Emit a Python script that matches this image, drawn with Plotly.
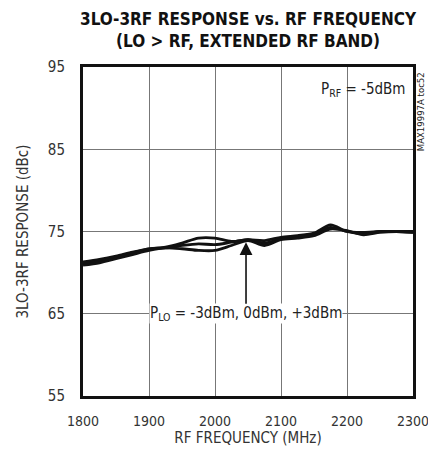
import plotly.graph_objects as go

# RF frequency (MHz)
freq = [1800, 1825, 1850, 1875, 1900, 1925, 1950, 1975, 2000, 2025, 2050,
        2075, 2100, 2125, 2150, 2175, 2200, 2225, 2250, 2275, 2300]

# 3LO-3RF response (dBc) for the three LO drive levels
resp_a = [71.3, 71.6, 72.0, 72.5, 72.9, 73.1, 73.6, 74.2, 74.2, 73.8, 74.0,
          73.9, 74.3, 74.5, 74.8, 75.8, 75.0, 74.9, 75.0, 75.0, 74.9]
resp_b = [71.1, 71.4, 71.9, 72.4, 72.9, 73.0, 73.3, 73.5, 73.4, 73.7, 74.0,
          73.6, 74.1, 74.4, 74.7, 75.5, 75.0, 74.7, 75.0, 75.0, 75.0]
resp_c = [70.9, 71.2, 71.7, 72.2, 72.7, 73.0, 72.9, 72.7, 72.7, 73.3, 73.9,
          73.3, 74.0, 74.2, 74.5, 75.3, 75.1, 74.6, 74.9, 75.0, 74.9]

x_ticks = [1800, 1900, 2000, 2100, 2200, 2300]
y_ticks = [55, 65, 75, 85, 95]

FONT = "DejaVu Sans Condensed, Liberation Sans Narrow, sans-serif"

fig = go.Figure()

for series in [resp_a, resp_b, resp_c]:
    fig.add_trace(go.Scatter(
        x=freq, y=series,
        mode='lines',
        line=dict(color='#111111', width=2.8, shape='spline', smoothing=0.8),
        showlegend=False,
        hoverinfo='skip'
    ))

# LO drive annotation with arrow
fig.add_annotation(
    x=2047, y=73.7, ax=2047, ay=65,
    xref='x', yref='y', axref='x', ayref='y',
    text="P<sub>LO</sub> = -3dBm, 0dBm, +3dBm",
    showarrow=True, arrowhead=2, arrowsize=1.6, arrowwidth=1.6,
    arrowcolor='#111111', bgcolor='white', borderpad=0,
    font=dict(family=FONT, size=15, color='#222222')
)

# RF power label
fig.add_annotation(
    x=2300, y=92.3, xref='x', yref='y', xanchor='right', yanchor='middle',
    xshift=-6,
    text="P<sub>RF</sub> = -5dBm", showarrow=False,
    font=dict(family=FONT, size=15, color='#222222')
)

# part number tag, rotated along the right edge
fig.add_annotation(
    x=1.0, y=89.5, xref='paper', yref='y', xanchor='center', yanchor='middle',
    xshift=7, textangle=-90,
    text="MAX19997A toc52", showarrow=False,
    font=dict(family=FONT, size=9.5, color='#222222')
)

# chart title (two lines, bold)
fig.add_annotation(
    x=0.5, y=1.0, xref='paper', yref='paper', xanchor='center', yanchor='bottom',
    yshift=14, showarrow=False,
    text="<b>3LO-3RF RESPONSE vs. RF FREQUENCY<br>(LO > RF, EXTENDED RF BAND)</b>",
    font=dict(family=FONT, size=17, color='#111111')
)

fig.update_xaxes(
    range=[1800, 2300], tickvals=x_ticks,
    showgrid=True, gridcolor='#777777', gridwidth=1,
    showline=True, linecolor='#111111', linewidth=3, mirror=True,
    zeroline=False, ticks='', automargin=False, ticklabelstandoff=10,
    ticklabeloverflow='allow',
    tickfont=dict(family=FONT, size=14, color='#333333'),
    title=dict(text="RF FREQUENCY (MHz)", standoff=5,
               font=dict(family=FONT, size=15, color='#333333'))
)
fig.update_yaxes(
    range=[55, 95], tickvals=y_ticks,
    showgrid=True, gridcolor='#777777', gridwidth=1,
    showline=True, linecolor='#111111', linewidth=3, mirror=True,
    zeroline=False, ticks='', automargin=False, ticklabelstandoff=12,
    tickfont=dict(family=FONT, size=15, color='#333333'),
    title=dict(text="3LO-3RF RESPONSE (dBc)", standoff=16,
               font=dict(family=FONT, size=15, color='#333333'))
)

fig.update_layout(
    width=428, height=456,
    margin=dict(l=83, r=15, t=67, b=60),
    paper_bgcolor='white', plot_bgcolor='white'
)

# drop the default page margin so the figure fills the window exactly
fig.write_html(
    "out.html",
    config={'displayModeBar': False},
    post_script="document.body.style.margin='0';"
                "document.documentElement.style.overflow='hidden';"
)
